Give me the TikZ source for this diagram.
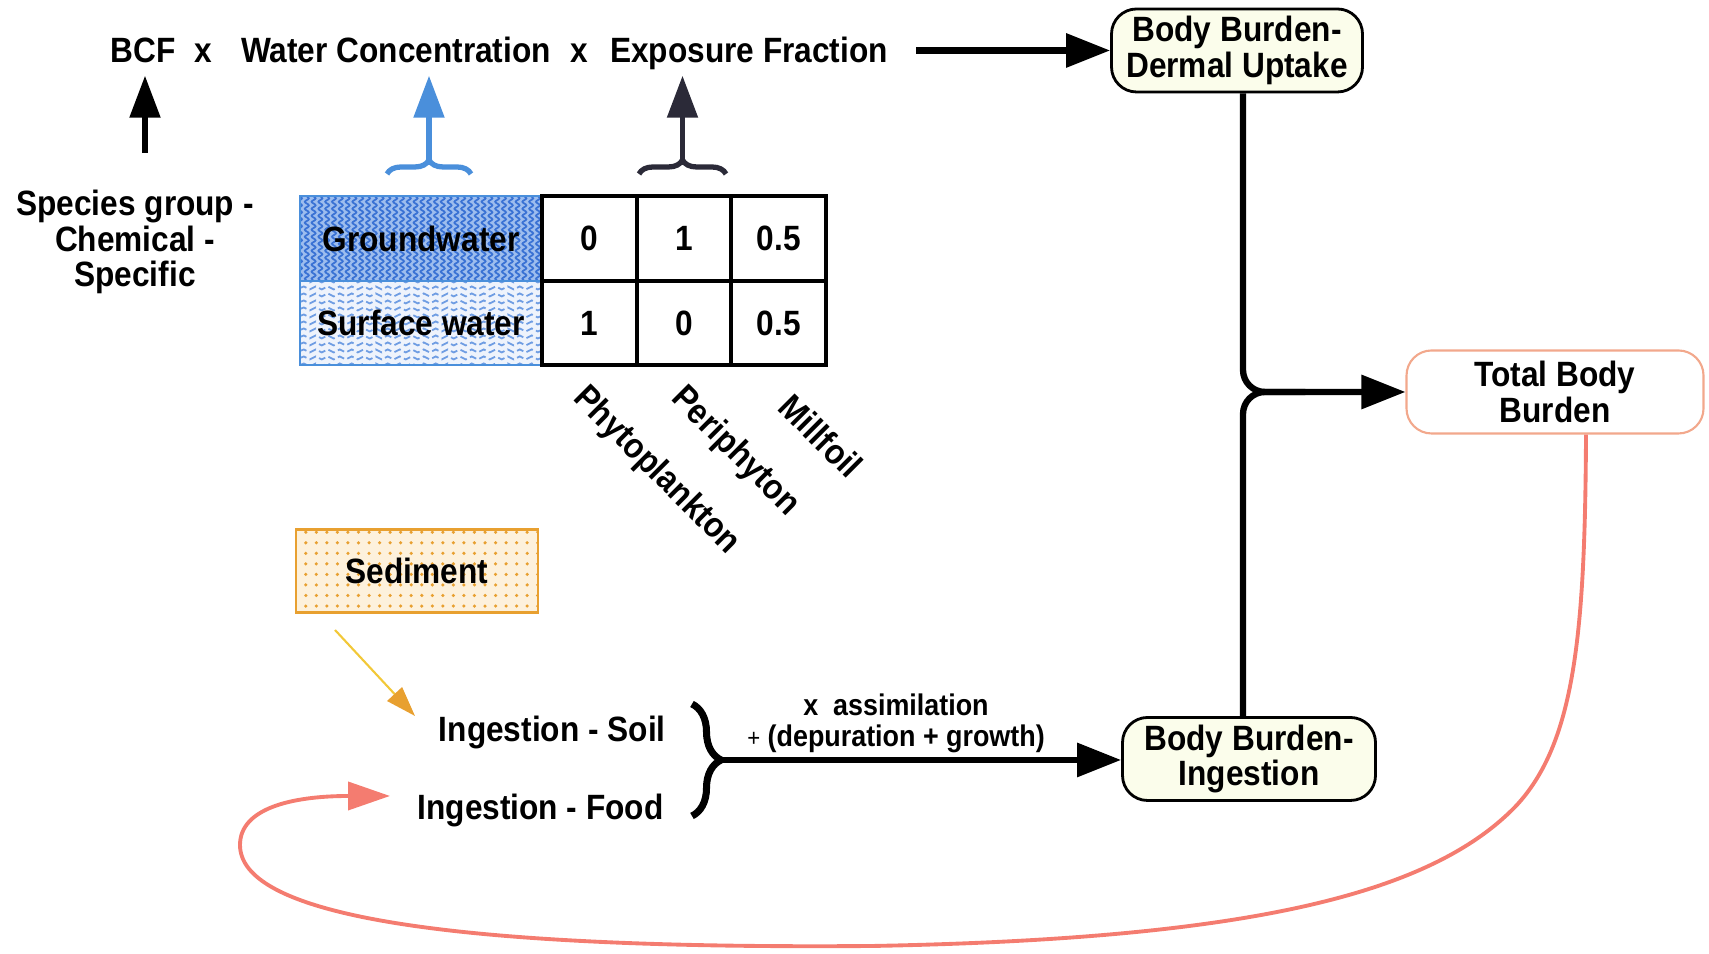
\documentclass[tikz,border=0pt]{standalone}
\usepackage{fontspec}
\setmainfont{Liberation Sans}[FakeStretch=0.9]
\usepackage{tikz}
\usetikzlibrary{arrows.meta, decorations.pathmorphing, decorations.pathreplacing, patterns, positioning}

\definecolor{boxfill}{HTML}{FBFDEB}
\definecolor{waterblue}{HTML}{4A8FDB}
\definecolor{gwfill}{HTML}{9DBDEE}
\definecolor{gwline}{HTML}{3A72D4}
\definecolor{swfill}{HTML}{EEF3FC}
\definecolor{swline}{HTML}{6F9DE3}
\definecolor{sedborder}{HTML}{E8A030}
\definecolor{sedfill}{HTML}{FDF1DC}
\definecolor{salmon}{HTML}{F47C70}
\definecolor{darkarrow}{HTML}{2B2A38}
\definecolor{totalborder}{HTML}{F2A88C}
\definecolor{sedarrowcol}{HTML}{F2C838}

\begin{document}
\begin{tikzpicture}[
    every node/.style={font=\fontsize{10}{10}\selectfont\bfseries},
    burden/.style={draw, line width=0.8pt, rounded corners=0.25cm, fill=boxfill,
        minimum height=0.83cm, align=center, inner sep=1pt},
    flow/.style={line width=1.8pt, -{Triangle[length=0.44cm,width=0.33cm]}},
    uparrow/.style={line width=1.5pt, -{Triangle[length=0.42cm,width=0.3cm]}},
    curly/.style={decorate, decoration={brace, amplitude=0.14cm}, line width=1.5pt},
    cell/.style={draw, line width=1.1pt, minimum width=0.947cm, minimum height=0.85cm},
    gwcell/.style={draw=waterblue, line width=0.6pt, fill=gwfill, minimum width=2.42cm, minimum height=0.85cm,
        path picture={\foreach \k in {0,...,36}
            \draw[gwline, line width=0.5pt, decorate, decoration={snake, amplitude=0.02cm, segment length=0.07cm}]
            ([xshift=\k*0.068cm]path picture bounding box.south west) -- ([xshift=\k*0.068cm]path picture bounding box.north west);}},
    swcell/.style={draw=waterblue, line width=0.6pt, fill=swfill, minimum width=2.42cm, minimum height=0.84cm,
        path picture={\foreach \k in {0,...,12}
            \draw[swline, line width=0.5pt, dash pattern=on 2pt off 1pt, decorate, decoration={snake, amplitude=0.015cm, segment length=0.12cm}]
            ([yshift=\k*0.07cm]path picture bounding box.south west) -- ([yshift=\k*0.07cm]path picture bounding box.south east);}},
    species/.style={rotate=-45, anchor=west, inner sep=0pt, font=\fontsize{10}{10}\selectfont\bfseries}
]
\useasboundingbox (0,0) rectangle (17.09,9.54);

% formula on top
\node[anchor=base] (bcf) at (1.43, 8.91) {BCF};
\node[anchor=base] (times1) at (2.03, 8.91) {x};
\node[anchor=base] (watconc) at (3.96, 8.91) {Water Concentration};
\node[anchor=base] (times2) at (5.79, 8.91) {x};
\node[anchor=base] (expfrac) at (7.49, 8.91) {Exposure Fraction};

\node[align=center] (group) at (1.35, 7.12) {Species group -\\Chemical -\\Specific};

% exposure table
\node[gwcell] (gw) at (4.21, 7.155) {Groundwater};
\node[swcell] (sw) at (4.21, 6.31) {Surface water};
\foreach \g/\s [count=\i] in {0/1, 1/0, 0.5/0.5} {
    \node[cell] (g\i) at (5.42+\i*0.947-0.4735, 7.155) {\g};
    \node[cell, minimum height=0.84cm] (s\i) at (5.42+\i*0.947-0.4735, 6.31) {\s};
}
\node[species] (phyto) at (5.78, 5.61) {Phytoplankton};
\node[species] (peri) at (6.76, 5.61) {Periphyton};
\node[species] (milfoil) at (7.85, 5.54) {Millfoil};

% arrows up to the formula
\coordinate (bcftail) at (1.45, 8.01);
\draw[uparrow, black] (bcftail) -- (bcftail |- bcf.south);
\draw[curly, waterblue] (3.87, 7.80) -- (4.71, 7.80);
\coordinate (wcbr) at (4.29, 7.94);
\draw[uparrow, waterblue] (wcbr) -- (wcbr |- bcf.south);
\draw[curly, darkarrow] (6.39, 7.80) -- (7.26, 7.80);
\coordinate (efbr) at (6.825, 7.94);
\draw[uparrow, darkarrow] (efbr) -- (efbr |- bcf.south);

% body burden boxes
\node[burden, minimum width=2.51cm] (dermal) at (12.37, 9.035) {Body Burden-\\Dermal Uptake};
\node[burden, draw=totalborder, fill=white, line width=0.6pt, minimum width=2.97cm] (total) at (15.55, 5.62) {Total Body\\Burden};
\node[burden, minimum width=2.53cm] (ingest) at (12.49, 1.95) {Body Burden-\\Ingestion};

\draw[flow, shorten <=0.16cm] (expfrac.east |- dermal.west) -- (dermal.west);

\coordinate (jn) at (12.43, 5.62);
\draw[line width=1.8pt, rounded corners=0.22cm] (dermal.south -| jn) |- ([xshift=-1cm]total.west);
\draw[flow, rounded corners=0.22cm] (ingest.north -| jn) |- (total.west);

% ingestion
\node[draw=sedborder, line width=0.8pt, fill=sedfill, postaction={pattern=dots, pattern color=sedborder},
    minimum width=2.42cm, minimum height=0.83cm] (sediment) at (4.17, 3.83) {Sediment};
\node[anchor=east] (soil) at (6.78, 2.21) {Ingestion - Soil};
\node[anchor=east] (food) at (6.76, 1.43) {Ingestion - Food};

\coordinate (sedtail) at (3.35, 3.24);
\coordinate (soilin) at (4.15, 2.38);
\draw[sedarrowcol, line width=0.6pt, -{Triangle[length=0.3cm,width=0.2cm,color=sedborder]}] (sedtail) -- (soilin);

\draw[line width=2pt, decorate, decoration={brace, amplitude=0.29cm}] (6.92, 2.50) -- (6.92, 1.38);
\coordinate (brtip) at (7.21, 1.94);
\draw[flow] (brtip) -- (brtip -| ingest.west);
\node[align=center, font=\fontsize{8.5}{8.8}\selectfont\bfseries] (assim) at (8.96, 2.31)
    {x\ \ assimilation\\{\fontsize{7}{7}\selectfont\mdseries +} (depuration + growth)};

% feedback to food
\coordinate (foodin) at (3.90, 1.58);
\draw[salmon, line width=1.1pt, -{Triangle[length=0.42cm,width=0.28cm]}]
    ([xshift=0.31cm]total.south) .. controls (15.85,3.2) and (15.75,2.1) .. (15.15,1.47)
    .. controls (14.3,0.6) and (12.5,0.15) .. (8.72,0.08)
    .. controls (5.0,0.05) and (2.4,0.3) .. (2.40,1.09)
    .. controls (2.40,1.45) and (2.9,1.58) .. (foodin);
\end{tikzpicture}
\end{document}
